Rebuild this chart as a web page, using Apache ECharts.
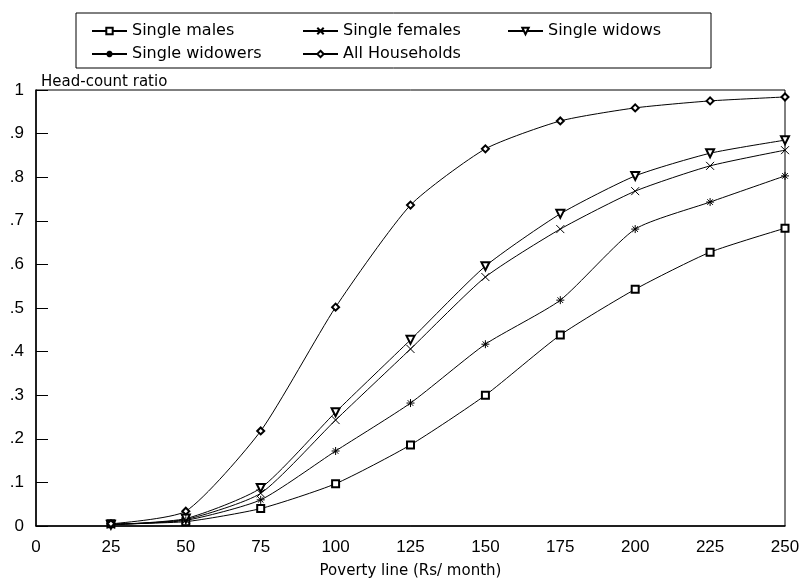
<!DOCTYPE html>
<html>
<head>
<meta charset="utf-8">
<script src="https://cdn.jsdelivr.net/npm/echarts@6/dist/echarts.min.js"></script>
<style>
  html, body { margin: 0; padding: 0; background: #fff; }
  #chart { width: 800px; height: 578px; }
</style>
</head>
<body>
<div id="chart"></div>
<script>
  // poverty line (Rs/ month) and head-count ratios
  const povertyLine = [25, 50, 75, 100, 125, 150, 175, 200, 225, 250]
  const singleMales = [0.005, 0.01, 0.04, 0.097, 0.186, 0.30, 0.438, 0.543, 0.628, 0.683]
  const singleFemales = [0.003, 0.015, 0.075, 0.243, 0.406, 0.571, 0.681, 0.768, 0.826, 0.862]
  const singleWidows = [0.003, 0.017, 0.087, 0.261, 0.427, 0.596, 0.716, 0.803, 0.855, 0.885]
  const singleWidowers = [0.003, 0.013, 0.06, 0.172, 0.282, 0.417, 0.518, 0.681, 0.743, 0.803]
  const allHouseholds = [0.005, 0.034, 0.218, 0.502, 0.736, 0.865, 0.929, 0.959, 0.975, 0.984]

  const font = 'DejaVu Sans'
  const narrow = '"Liberation Sans Narrow", "Liberation Sans", sans-serif'

  function pairs (ys) {
    return povertyLine.map((x, i) => [x, ys[i]])
  }

  function makeSeries (name, ys, symbol, size, extra) {
    return Object.assign({
      name: name,
      type: 'line',
      data: pairs(ys),
      smooth: 0.2,
      symbol: symbol,
      symbolSize: size,
      showAllSymbol: true,
      lineStyle: { color: '#000', width: 1 },
      itemStyle: { color: '#000', borderColor: '#000', borderWidth: 1 },
      emphasis: { disabled: true },
      z: 3
    }, extra || {})
  }

  function legendAt (name, left, top) {
    return {
      data: [name],
      left: left,
      top: top,
      itemWidth: 35,
      itemHeight: 8,
      itemGap: 0,
      selectedMode: false,
      textStyle: { color: '#000', fontFamily: font, fontSize: 16 }
    }
  }

  const chart = echarts.init(document.getElementById('chart'))
  chart.setOption({
    animation: false,
    backgroundColor: '#fff',
    title: {
      text: 'Head-count ratio',
      left: 36,
      top: 70,
      textStyle: { color: '#000', fontFamily: font, fontSize: 15, fontWeight: 'normal' }
    },
    legend: [
      legendAt('Single males', 86, 18),
      legendAt('Single females', 297, 18),
      legendAt('Single widows', 502, 18),
      legendAt('Single widowers', 86, 41),
      legendAt('All Households', 297, 41)
    ],
    graphic: [{
      type: 'rect',
      shape: { x: 76, y: 13, width: 635, height: 55 },
      style: { fill: 'none', stroke: '#000', lineWidth: 1 }
    }],
    grid: {
      left: 36,
      right: 15,
      top: 90,
      bottom: 52,
      outerBoundsMode: 'none',
      show: true,
      borderColor: '#000',
      borderWidth: 1
    },
    xAxis: {
      type: 'value',
      min: 0,
      max: 250,
      interval: 25,
      name: 'Poverty line (Rs/ month)',
      nameLocation: 'middle',
      nameGap: 38,
      nameTextStyle: { color: '#000', fontFamily: font, fontSize: 15 },
      axisLine: { show: true, lineStyle: { color: '#000', width: 1.5 } },
      axisTick: { show: false },
      splitLine: { show: false },
      axisLabel: { color: '#000', fontFamily: narrow, fontSize: 17, margin: 13 }
    },
    yAxis: {
      type: 'value',
      min: 0,
      max: 1,
      interval: 0.1,
      axisLine: { show: true, lineStyle: { color: '#000', width: 1.5 } },
      axisTick: { show: true, inside: true, length: 12, lineStyle: { color: '#000' } },
      splitLine: { show: false },
      axisLabel: {
        color: '#000',
        fontFamily: narrow,
        fontSize: 17,
        margin: 12,
        formatter: function (v) {
          if (v === 0) return '0'
          if (v === 1) return '1'
          return '.' + Math.round(v * 10)
        }
      }
    },
    series: [
      makeSeries('Single males', singleMales, 'emptyRect', 7),
      makeSeries('Single females', singleFemales, 'path://M0,0L10,10M10,0L0,10', 8),
      makeSeries('Single widows', singleWidows, 'emptyTriangle', 8, { symbolRotate: 180 }),
      makeSeries('Single widowers', singleWidowers, 'path://M5,0L5,10M0,5L10,5M1.5,1.5L8.5,8.5M8.5,1.5L1.5,8.5', 8),
      makeSeries('All Households', allHouseholds, 'emptyDiamond', 7)
    ]
  })
</script>
</body>
</html>
